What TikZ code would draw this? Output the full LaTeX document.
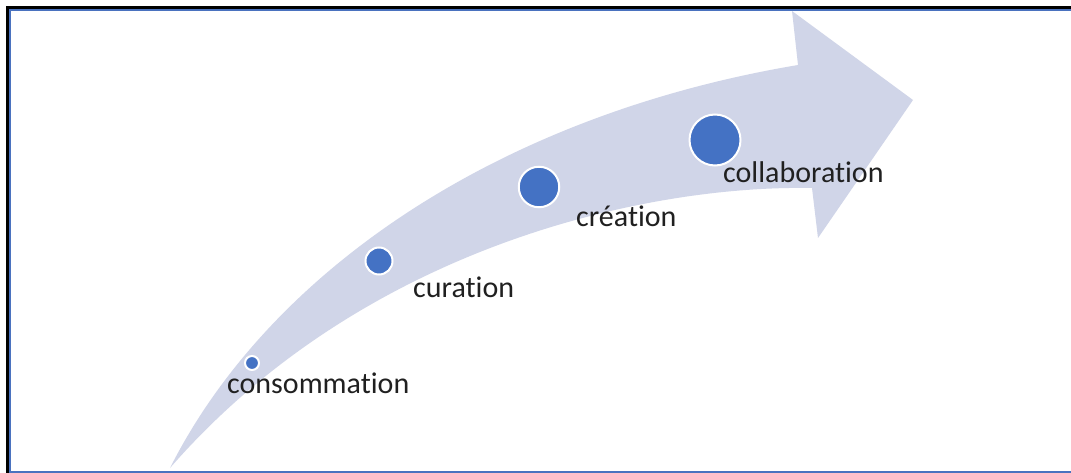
\documentclass[tikz,border=0pt]{standalone}
\usepackage{fontspec}
\setmainfont{Carlito}[Ligatures={NoCommon,NoContextual}]
\definecolor{arrowfill}{HTML}{D0D5E8}
\definecolor{dotblue}{HTML}{4472C4}
\definecolor{frameblue}{HTML}{4A72BF}
\definecolor{labelcol}{HTML}{202020}
\tikzset{
  stagedot/.style={circle, fill=dotblue, draw=white, line width=2pt, inner sep=0pt, minimum size=#1},
  stagelabel/.style={anchor=base west, inner sep=0pt, text=labelcol, font=\fontsize{30}{36}\selectfont}
}
\begin{document}
\begin{tikzpicture}[x=1pt,y=-1pt]
\useasboundingbox (0,0) rectangle (1071,473);
\fill[white] (0,0) rectangle (1071,473);
% frame
\draw[black, line width=3pt] (7.5,480) -- (7.5,7.5) -- (1080,7.5);
\draw[frameblue, line width=2pt] (10,471.5) -- (10,10) -- (1080,10);
\draw[frameblue, line width=2pt] (9,472) -- (1080,472);
% curved arrow
\fill[arrowfill] (170,468) .. controls (270,270) and (500,115) .. (798,65)
  -- (792,11) -- (913,100) -- (818,238) -- (812,188)
  .. controls (640,185) and (360,250) .. (170,468) -- cycle;
% dots
\node[stagedot=14pt] (d1) at (252,363) {};
\node[stagedot=27pt] (d2) at (379,261) {};
\node[stagedot=40.5pt] (d3) at (539,187) {};
\node[stagedot=51pt] (d4) at (715,140) {};
% labels
\node[stagelabel] (l1) at (227,393) {consommation};
\node[stagelabel] (l2) at (413,297) {curation};
\node[stagelabel] (l3) at (576,226) {création};
\node[stagelabel] (l4) at (723,183) {collaboration};
\end{tikzpicture}
\end{document}
